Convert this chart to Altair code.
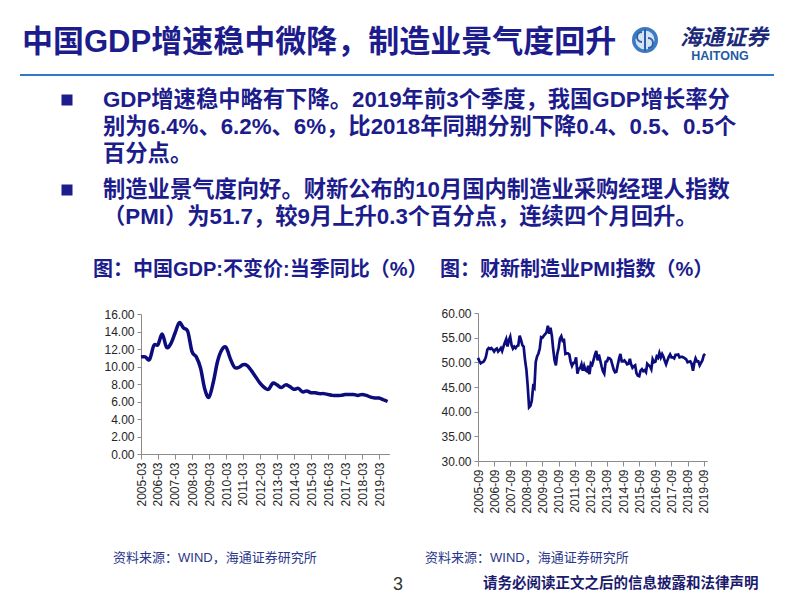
import altair as alt
import pandas as pd

# ---------------- data ----------------
gdp_dates = [f"{y}-{m:02d}-01" for y in range(2005, 2020) for m in (3, 6, 9, 12)][:59]
gdp_values = [
    11.1, 11.1, 10.8, 12.4,
    12.5, 13.7, 12.2, 12.6,
    13.8, 15.0, 14.4, 14.0,
    11.7, 11.1, 9.8, 7.4,
    6.5, 8.2, 10.6, 11.9,
    12.2, 10.9, 9.9, 9.9,
    10.2, 10.1, 9.5, 8.8,
    8.1, 7.6, 7.4, 8.1,
    7.9, 7.6, 7.9, 7.7,
    7.4, 7.5, 7.1, 7.2,
    7.0, 7.0, 6.9, 6.9,
    6.8, 6.7, 6.7, 6.7,
    6.8, 6.8, 6.8, 6.7,
    6.8, 6.7, 6.5, 6.4,
    6.4, 6.2, 6.0,
]

pmi_dates = [f"{y}-{m:02d}-01" for y in range(2005, 2020) for m in range(1, 13)][8:8 + 170]
pmi_values = [
    50.9, 50.3, 49.8, 50.0,                                              # 2005-09..12
    50.1, 50.5, 51.2, 52.6, 52.9, 52.7, 52.9, 52.6, 52.2, 52.6, 52.8, 52.2,  # 2006
    52.5, 52.9, 52.3, 53.2, 54.0, 54.7, 53.2, 54.5, 55.2, 53.5, 52.8, 53.2,  # 2007
    52.9, 53.3, 53.4, 55.4, 54.6, 53.5, 53.2, 50.5, 48.5, 45.2, 40.9, 41.2,  # 2008
    42.2, 45.1, 44.8, 50.1, 51.2, 51.8, 52.8, 55.1, 55.0, 55.4, 55.7, 56.1,  # 2009
    57.4, 55.8, 57.0, 55.4, 52.7, 50.4, 49.4, 51.7, 52.9, 54.8, 55.3, 54.4,  # 2010
    54.5, 51.7, 51.8, 51.8, 51.6, 50.1, 49.3, 49.9, 49.9, 51.0, 47.7, 48.7,  # 2011
    48.8, 49.6, 48.3, 49.3, 48.4, 48.2, 49.3, 47.6, 49.8, 49.5, 50.5, 51.5,  # 2012
    52.3, 50.4, 51.6, 50.4, 49.2, 48.2, 47.7, 50.1, 50.2, 50.9, 50.8, 50.5,  # 2013
    49.5, 48.5, 48.0, 48.1, 49.4, 50.7, 51.7, 50.2, 50.2, 50.4, 50.0, 49.6,  # 2014
    49.7, 50.7, 49.6, 48.9, 49.2, 49.4, 47.8, 47.3, 47.2, 48.3, 48.6, 48.2,  # 2015
    48.4, 48.0, 49.7, 49.4, 49.2, 48.6, 50.6, 50.0, 50.1, 51.2, 50.9, 51.9,  # 2016
    51.0, 51.7, 51.2, 50.3, 49.6, 50.4, 51.1, 51.6, 51.0, 51.0, 50.8, 51.5,  # 2017
    51.5, 51.6, 51.0, 51.1, 51.1, 51.0, 50.8, 50.6, 50.0, 50.1, 50.2, 49.7,  # 2018
    48.3, 49.9, 50.8, 50.2, 50.2, 49.4, 49.9, 50.4, 51.4, 51.7,              # 2019
]

gdp_ticks = [f"{y}-03" for y in range(2005, 2020)]
pmi_ticks = [f"{y}-09" for y in range(2005, 2020)]
gdp_yticks = [0, 2, 4, 6, 8, 10, 12, 14, 16]
pmi_yticks = [30, 35, 40, 45, 50, 55, 60]

title_text = "中国GDP增速稳中微降，制造业景气度回升"
bullet1 = [
    "GDP增速稳中略有下降。2019年前3个季度，我国GDP增长率分",
    "别为6.4%、6.2%、6%，比2018年同期分别下降0.4、0.5、0.5个",
    "百分点。",
]
bullet2 = [
    "制造业景气度向好。财新公布的10月国内制造业采购经理人指数",
    "（PMI）为51.7，较9月上升0.3个百分点，连续四个月回升。",
]
chart_title_left = "图：中国GDP:不变价:当季同比（%）"
chart_title_right = "图：财新制造业PMI指数（%）"
source_text = "资料来源：WIND，海通证券研究所"
page_no = "3"
disclaimer = "请务必阅读正文之后的信息披露和法律声明"

# ---------------- style ----------------
W, H = 786, 586
NAVY = "#1C1C8C"
LINE = "#0C0C7C"
AXIS = "#8C8C8C"
LAB = "#262626"
FONT = "Liberation Sans, Noto Sans CJK SC"


def dt(s):
    parts = s.split("-")
    return alt.DateTime(year=int(parts[0]), month=int(parts[1]),
                        date=int(parts[2]) if len(parts) > 2 else 1, utc=True)


dummy = pd.DataFrame({"k": [0]})


def text(t, x, y, size, color=NAVY, weight="normal", align="left", font=FONT, style="normal"):
    return alt.Chart(dummy).mark_text(
        text=t, align=align, baseline="middle", fontSize=size, fontWeight=weight,
        color=color, font=font, fontStyle=style,
    ).encode(x=alt.value(x), y=alt.value(y))


def line_chart(df, x_dom, x_rng, y_dom, y_rng, xticks, yticks, width, interp):
    return alt.Chart(df).mark_line(color=LINE, strokeWidth=width, interpolate=interp).encode(
        x=alt.X("date:T",
                scale=alt.Scale(type="utc", domain=[dt(x_dom[0]), dt(x_dom[1])], range=x_rng),
                axis=alt.Axis(orient="bottom", offset=y_rng[0] - H, values=[dt(t) for t in xticks],
                              labelExpr="utcFormat(datum.value, '%Y-%m')", labelAngle=-90,
                              labelFlush=False, labelOverlap=False, title=None, grid=False,
                              domainColor=AXIS, tickColor=AXIS, tickSize=5, labelPadding=3,
                              labelFont="Liberation Sans", labelFontSize=12, labelColor=LAB)),
        y=alt.Y("value:Q",
                scale=alt.Scale(domain=y_dom, range=y_rng, nice=False, zero=False),
                axis=alt.Axis(orient="left", offset=-x_rng[0], values=yticks, format=".2f",
                              labelFlush=False, labelOverlap=False, title=None, grid=False,
                              domainColor=AXIS, tickColor=AXIS, tickSize=4, labelPadding=3,
                              labelFont="Liberation Sans", labelFontSize=12, labelColor=LAB)),
    )


gdp_df = pd.DataFrame({"date": gdp_dates, "value": gdp_values})
pmi_df = pd.DataFrame({"date": pmi_dates, "value": pmi_values})

gdp_chart = line_chart(gdp_df, ("2005-03-01", "2019-10-10"), [133, 381.4], [0, 16], [446, 306],
                       gdp_ticks, gdp_yticks, 3.5, "cardinal")
pmi_chart = line_chart(pmi_df, ("2005-09-01", "2019-11-21"), [470, 699.3], [30, 60], [453, 305],
                       pmi_ticks, pmi_yticks, 2.7, "linear")

layers = [gdp_chart, pmi_chart]

# title + logo
layers.append(text(title_text, 14, 35, 31, weight="bold"))
layers.append(alt.Chart(dummy).mark_arc(radius=13, radius2=0, theta=0, theta2=6.2832,
                                        color="#D3E3F4").encode(x=alt.value(637), y=alt.value(32)))
layers.append(alt.Chart(dummy).mark_arc(radius=13, radius2=9.5, theta=0, theta2=6.2832,
                                        color="#3C7AC3").encode(x=alt.value(637), y=alt.value(32)))
layers.append(alt.Chart(dummy).mark_arc(radius=6, radius2=4, theta=3.1416, theta2=6.2832,
                                        color="#2D5FA8").encode(x=alt.value(634), y=alt.value(29)))
layers.append(alt.Chart(dummy).mark_arc(radius=6, radius2=4, theta=0, theta2=3.1416,
                                        color="#2D5FA8").encode(x=alt.value(640), y=alt.value(35)))
layers.append(alt.Chart(dummy).mark_rule(color="#2D5FA8", strokeWidth=2).encode(
    x=alt.value(637), y=alt.value(21), y2=alt.value(43)))
layers.append(text("海通证券", 672, 30, 22, color="#1D2A78", weight="bold", style="italic"))
layers.append(text("HAITONG", 712, 48, 12.5, color="#1F5AA5", weight="bold", align="center",
                   font="Liberation Sans"))
layers.append(alt.Chart(dummy).mark_rule(color="#2D7BC4", strokeWidth=2).encode(
    x=alt.value(12), x2=alt.value(766), y=alt.value(67)))

# bullets
for by in (92, 182):
    layers.append(alt.Chart(dummy).mark_point(shape="square", filled=True, size=121, color=NAVY,
                                              opacity=1).encode(x=alt.value(59), y=alt.value(by)))
for i, t in enumerate(bullet1):
    layers.append(text(t, 95, 92 + 27 * i, 22.3, weight="bold"))
for i, t in enumerate(bullet2):
    layers.append(text(t, 95, 182 + 27 * i, 22.3, weight="bold"))

# chart titles
layers.append(text(chart_title_left, 85, 262, 20, weight="bold"))
layers.append(text(chart_title_right, 432, 262, 20, weight="bold"))

# sources and footer
layers.append(text(source_text, 105, 550, 13, color="#2A368A"))
layers.append(text(source_text, 417, 550, 13, color="#2A368A"))
layers.append(text(page_no, 390, 577, 18, color="#333333", align="center", font="Liberation Sans"))
layers.append(text(disclaimer, 475, 576, 14.5, color="#1B1B6E", weight="bold"))

chart = (
    alt.layer(*layers)
    .resolve_scale(x="independent", y="independent")
    .resolve_axis(x="independent", y="independent")
    .properties(width=W, height=H, padding=0, background="white",
                autosize=alt.AutoSizeParams(type="none"))
    .configure_view(strokeWidth=0)
)

chart.save("out.html", embed_options={"renderer": "svg", "actions": False})
